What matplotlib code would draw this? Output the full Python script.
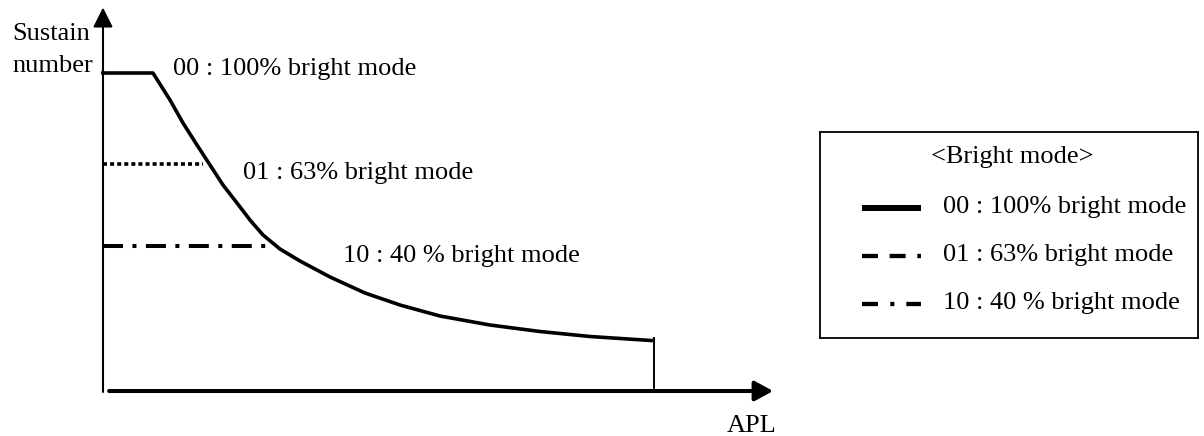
import numpy as np
import matplotlib
matplotlib.use("Agg")
import matplotlib.pyplot as plt

plt.rcParams['font.family'] = ['Liberation Serif', 'DejaVu Serif']
plt.rcParams['lines.scale_dashes'] = False

# sustain number (% of max) versus APL (%)
apl = [0, 9.07, 12.16, 14.52, 17.06, 19.42, 21.78, 24.32, 26.68, 29.04, 32.12,
       35.75, 41.20, 47.55, 53.90, 61.16, 70.24, 79.31, 88.38, 99.46]
sustain = [100, 100, 91.51, 84.28, 77.36, 71.07, 64.78, 59.12, 53.77, 49.06, 44.65,
           40.88, 35.85, 30.82, 27.04, 23.58, 20.75, 18.71, 17.14, 15.88]

# limited sustain levels for the lower bright modes
level_63 = 71.4
end_63 = 18.1
level_40 = 45.6
end_40 = 29.8
apl_max = 100
end_level = 16.8

labels = ['00 : 100% bright mode', '01 : 63% bright mode', '10 : 40 % bright mode']

solid = '-'
dotted = (0, (2.9, 2.2))
dashed = (0, (11.5, 8.4))
dashdot = (0, (14.4, 6.8, 2.9, 6.8))
dashdot_leg = (0, (11.5, 8.9, 2.9, 8.6))

fs = 19

fig = plt.figure(figsize=(12.04, 4.36), dpi=100)
ax = fig.add_axes([0, 0, 1, 1])
ax.set_xlim(-18.69, 199.8)
ax.set_ylim(-14.15, 122.96)
ax.axis('off')

# axes with arrow heads
ax.annotate('', xy=(0, 120.6), xytext=(0, -0.3),
            arrowprops=dict(arrowstyle='-|>,head_length=12,head_width=6',
                            mutation_scale=1, lw=1.5, color='black',
                            shrinkA=0, shrinkB=0))
ax.annotate('', xy=(121.6, 0), xytext=(1.1, 0),
            arrowprops=dict(arrowstyle='-|>,head_length=11,head_width=6',
                            mutation_scale=1, lw=2.9, color='black',
                            shrinkA=0, shrinkB=0))

ax.plot(apl, sustain, color='black', lw=2.6, solid_joinstyle='round')
ax.plot([apl_max, apl_max], [0, end_level], color='black', lw=1.4)
ax.plot([0, end_63], [level_63, level_63], color='black', lw=2.6,
        linestyle=dotted, dash_capstyle='butt')
ax.plot([0, end_40], [level_40, level_40], color='black', lw=2.9,
        linestyle=dashdot, dash_capstyle='butt')

ax.text(12.7, 99.4, labels[0], fontsize=fs, va='baseline', ha='left')
ax.text(25.4, 66.8, labels[1], fontsize=fs, va='baseline', ha='left')
ax.text(43.5, 40.6, labels[2], fontsize=fs, va='baseline', ha='left')
ax.text(-16.5, 110.4, 'Sustain', fontsize=fs, va='baseline', ha='left')
ax.text(-16.5, 100.3, 'number', fontsize=fs, va='baseline', ha='left')
ax.text(113.2, -13.0, 'APL', fontsize=fs, va='baseline', ha='left')

# legend box, drawn in its own axes (units: pixels from the box's top-left)
W, H = 378, 206
lax = fig.add_axes([820 / 1204, (436 - 132 - H) / 436, W / 1204, H / 436])
lax.set_xlim(0, W)
lax.set_ylim(H, 0)
lax.set_xticks([])
lax.set_yticks([])
for sp in lax.spines.values():
    sp.set_linewidth(1.3)
    sp.set_color('black')

lax.text(W / 2 + 3, 30.5, '<Bright mode>', fontsize=fs, ha='center', va='baseline')
styles = [solid, dashed, dashdot_leg]
widths = [4.3, 3.1, 3.1]
rows = [76, 124, 172]
for lbl, ls, lw, yr in zip(labels, styles, widths, rows):
    lax.plot([42, 101], [yr, yr], color='black', lw=lw, linestyle=ls,
             dash_capstyle='butt', solid_capstyle='butt')
    lax.text(123, yr + 5, lbl, fontsize=fs, ha='left', va='baseline')

fig.savefig('out.png', dpi=100)
